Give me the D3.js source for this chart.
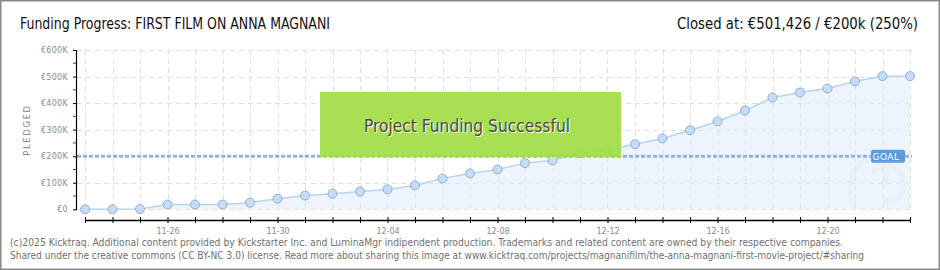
<!DOCTYPE html>
<html>
<head>
<meta charset="utf-8">
<script src="https://cdn.jsdelivr.net/npm/d3@7"></script>
<style>
  body { margin: 0; background: #fff; }
  svg { display: block; }
</style>
</head>
<body>
<svg id="chart" width="940" height="270"></svg>
<script>
// dias del proyecto
var days = ["2025-11-23","2025-11-24","2025-11-25","2025-11-26","2025-11-27","2025-11-28","2025-11-29","2025-11-30",
  "2025-12-01","2025-12-02","2025-12-03","2025-12-04","2025-12-05","2025-12-06","2025-12-07","2025-12-08",
  "2025-12-09","2025-12-10","2025-12-11","2025-12-12","2025-12-13","2025-12-14","2025-12-15","2025-12-16",
  "2025-12-17","2025-12-18","2025-12-19","2025-12-20","2025-12-21","2025-12-22","2025-12-23"];
// euros comprometidos por dia
var pledged = [0, 0, 1000, 18000, 18000, 18000, 25000, 40000,
  52000, 59000, 67000, 75000, 90000, 116000, 135000, 150000,
  174000, 184000, 212000, 223000, 245000, 267000, 298000, 331000,
  372000, 421000, 440000, 455000, 482000, 501426, 501426];
var goal = 200000;
var yTicks = [0, 100000, 200000, 300000, 400000, 500000, 600000];
var xLabels = ["11-26", "11-30", "12-04", "12-08", "12-12", "12-16", "12-20"];
var titleText = "Funding Progress: FIRST FILM ON ANNA MAGNANI";
var closedText = "Closed at:  \u20ac501,426 /  \u20ac200k (250%)";
var bannerText = "Project Funding Successful";
var footer = [
  "(c)2025 Kicktraq. Additional content provided by Kickstarter Inc. and LuminaMgr indipendent production. Trademarks and related content are owned by their respective companies.",
  "Shared under the creative commons (CC BY-NC 3.0) license. Read more about sharing this image at www.kicktraq.com/projects/magnanifilm/the-anna-magnani-first-movie-project/#sharing"
];

var parse = d3.timeParse("%Y-%m-%d");
var data = days.map(function(d, i) { return { date: parse(d), v: pledged[i] }; });

var svg = d3.select("#chart");
var narrow = "'Liberation Sans Narrow', 'DejaVu Sans Condensed', sans-serif";

// marco
svg.append("rect")
  .attr("x", 0.75).attr("y", 0.75)
  .attr("width", 938.5).attr("height", 268.5)
  .attr("fill", "#fff")
  .attr("stroke", "#8a8a8a")
  .attr("stroke-width", 1.5);

// titulos
svg.append("text")
  .attr("x", 20).attr("y", 29)
  .attr("font-family", narrow)
  .attr("font-size", 15)
  .attr("fill", "#111")
  .attr("textLength", 310)
  .attr("lengthAdjust", "spacingAndGlyphs")
  .text(titleText);

svg.append("text")
  .attr("x", 918).attr("y", 29)
  .attr("text-anchor", "end")
  .attr("font-family", narrow)
  .attr("font-size", 15)
  .attr("fill", "#111")
  .attr("textLength", 241)
  .attr("lengthAdjust", "spacingAndGlyphs")
  .text(closedText);

var x = d3.scaleTime()
  .domain(d3.extent(data, function(d) { return d.date; }))
  .range([85, 910]);
var y = d3.scaleLinear()
  .domain([0, 600000])
  .range([209.3, 50]);

// grid
var grid = svg.append("g").attr("class", "grid");
grid.selectAll("line.h")
  .data(yTicks)
  .enter().append("line")
  .attr("x1", 77).attr("x2", 910)
  .attr("y1", function(d) { return Math.round(y(d)) + 0.5; })
  .attr("y2", function(d) { return Math.round(y(d)) + 0.5; })
  .attr("stroke", "#dedede")
  .attr("stroke-dasharray", "5,4");
grid.selectAll("line.v")
  .data(data)
  .enter().append("line")
  .attr("x1", function(d) { return Math.round(x(d.date)) + 0.5; })
  .attr("x2", function(d) { return Math.round(x(d.date)) + 0.5; })
  .attr("y1", y(600000)).attr("y2", y(0))
  .attr("stroke", "#dedede")
  .attr("stroke-dasharray", "5,4");

// area + linea
var area = d3.area()
  .x(function(d) { return x(d.date); })
  .y0(y(0))
  .y1(function(d) { return y(d.v); });
svg.append("path")
  .datum(data)
  .attr("d", area)
  .attr("fill", "#deebfa")
  .attr("fill-opacity", 0.55);

// marca de agua
svg.append("path")
  .attr("d", "M855,208 C846,188 852,166 866,160 C880,155 890,168 884,186 M872,172 C884,162 898,164 902,180 C905,196 896,204 884,200")
  .attr("fill", "none")
  .attr("stroke", "#000")
  .attr("stroke-opacity", 0.015)
  .attr("stroke-width", 6);

var line = d3.line()
  .x(function(d) { return x(d.date); })
  .y(function(d) { return y(d.v); });
svg.append("path")
  .datum(data)
  .attr("d", line)
  .attr("fill", "none")
  .attr("stroke", "#b6d4f3")
  .attr("stroke-width", 1.5);

// meta
svg.append("line")
  .attr("x1", 77).attr("x2", 912)
  .attr("y1", y(goal)).attr("y2", y(goal))
  .attr("stroke", "#92b4dc")
  .attr("stroke-width", 3)
  .attr("stroke-dasharray", "4,2");

svg.selectAll("circle.pt")
  .data(data)
  .enter().append("circle")
  .attr("class", "pt")
  .attr("cx", function(d) { return x(d.date); })
  .attr("cy", function(d) { return y(d.v); })
  .attr("r", 4.5)
  .attr("fill", "#c4dcf6")
  .attr("stroke", "#95aeca")
  .attr("stroke-width", 1);

var goalG = svg.append("g");
goalG.append("rect")
  .attr("x", 871).attr("y", y(goal) - 6.5)
  .attr("width", 34).attr("height", 13)
  .attr("rx", 2)
  .attr("fill", "#5b9be0");
goalG.append("text")
  .attr("x", 886).attr("y", y(goal) + 3.5)
  .attr("text-anchor", "middle")
  .attr("font-family", "'DejaVu Sans', sans-serif")
  .attr("font-size", 9)
  .attr("fill", "#fff")
  .attr("letter-spacing", 0.5)
  .text("GOAL");

// ejes
var yAxis = svg.append("g")
  .attr("transform", "translate(76,0)")
  .call(d3.axisLeft(y)
    .tickValues(yTicks)
    .tickSize(3)
    .tickSizeOuter(0)
    .tickPadding(5)
    .tickFormat(function(d) { return d === 0 ? "\u20ac0" : "\u20ac" + (d / 1000) + "K"; }));
yAxis.select(".domain").attr("stroke", "#000").attr("stroke-width", 1.2);
yAxis.selectAll(".tick line").attr("stroke", "#000").attr("x2", -3).attr("x1", 1);
yAxis.selectAll(".tick text")
  .attr("font-family", "'DejaVu Sans', sans-serif")
  .attr("font-size", 8)
  .attr("fill", "#8a8a8a")
  .attr("letter-spacing", 0.3);

// ticks menores rojos
svg.selectAll("line.minor")
  .data([50000, 150000, 250000, 350000, 450000, 550000])
  .enter().append("line")
  .attr("x1", 73).attr("x2", 76)
  .attr("y1", function(d) { return y(d); })
  .attr("y2", function(d) { return y(d); })
  .attr("stroke", "#e01010")
  .attr("stroke-width", 1);

svg.append("text")
  .attr("transform", "translate(30,130) rotate(-90)")
  .attr("text-anchor", "middle")
  .attr("font-family", "'DejaVu Sans', sans-serif")
  .attr("font-size", 8.5)
  .attr("fill", "#8a8a8a")
  .attr("letter-spacing", 1.6)
  .text("PLEDGED");

var fmt = d3.timeFormat("%m-%d");
var xAxis = svg.append("g")
  .attr("transform", "translate(0,220)")
  .call(d3.axisBottom(x)
    .tickValues(data.map(function(d) { return d.date; }))
    .tickSize(3)
    .tickSizeOuter(0)
    .tickPadding(5)
    .tickFormat(function(d) {
      var s = fmt(d);
      return xLabels.indexOf(s) > -1 ? s : "";
    }));
xAxis.select(".domain").attr("stroke", "#000").attr("stroke-width", 1.5);
xAxis.selectAll(".tick line").attr("stroke", "#000").attr("y1", -3).attr("y2", 3);
xAxis.selectAll(".tick text")
  .attr("font-family", "'DejaVu Sans', sans-serif")
  .attr("font-size", 8)
  .attr("fill", "#8a8a8a");

// cartel verde
var banner = svg.append("g");
banner.append("rect")
  .attr("x", 320).attr("y", 92)
  .attr("width", 301).attr("height", 65)
  .attr("fill", "#a2dc44")
  .attr("fill-opacity", 0.92);
banner.append("text")
  .attr("x", 468).attr("y", 133)
  .attr("text-anchor", "middle")
  .attr("font-family", narrow)
  .attr("font-size", 18)
  .attr("fill", "#fff")
  .attr("textLength", 206)
  .attr("lengthAdjust", "spacingAndGlyphs")
  .text(bannerText);
banner.append("text")
  .attr("x", 467).attr("y", 132)
  .attr("text-anchor", "middle")
  .attr("font-family", narrow)
  .attr("font-size", 18)
  .attr("fill", "#4a4a4a")
  .attr("textLength", 206)
  .attr("lengthAdjust", "spacingAndGlyphs")
  .text(bannerText);

// pie
svg.selectAll("text.foot")
  .data(footer)
  .enter().append("text")
  .attr("class", "foot")
  .attr("x", 10)
  .attr("y", function(d, i) { return 246 + i * 13; })
  .attr("font-family", narrow)
  .attr("font-size", 10)
  .attr("fill", "#707070")
  .attr("textLength", function(d, i) { return i === 0 ? 833 : 854; })
  .attr("lengthAdjust", "spacingAndGlyphs")
  .text(function(d) { return d; });
</script>
</body>
</html>
